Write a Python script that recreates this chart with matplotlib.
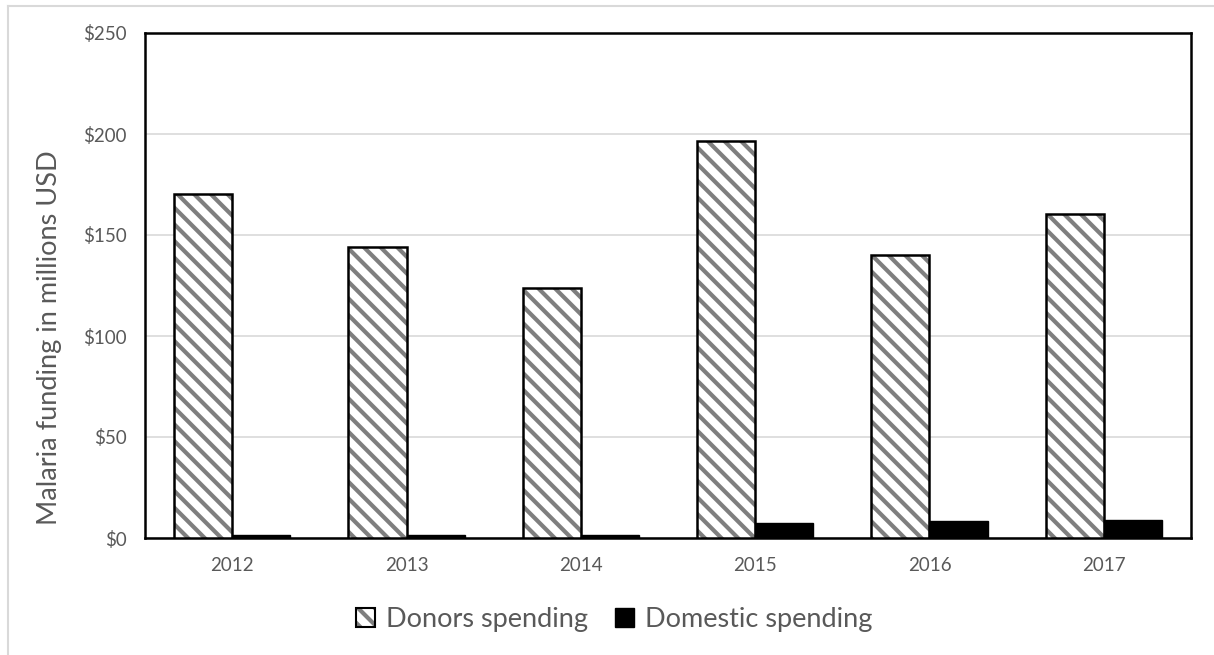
import matplotlib
matplotlib.use('Agg')
import matplotlib.pyplot as plt
from matplotlib.patches import Patch
from matplotlib.legend_handler import HandlerTuple
from matplotlib.ticker import FuncFormatter
import numpy as np

# ─── data ────────────────────────────────────────────────────────────────────
YEARS    = ["2012", "2013", "2014", "2015", "2016", "2017"]
DONORS   = [170.5, 144.0, 123.8, 196.5, 140.3, 160.6]
DOMESTIC = [1.5, 1.5, 1.5, 7.4, 8.4, 8.9]

plt.rcParams.update({
    "font.family": ["Lato", "DejaVu Sans"],
    "hatch.linewidth": 3.0,
})

TEXT_GREY = "#595959"
HATCH_GREY = "#7f7f7f"
HATCH = "\\\\"

fig = plt.figure(figsize=(12.14, 6.55), dpi=100)
ax = fig.add_axes([145/1214, 1 - 538/655, (1191-145)/1214, (538-33)/655])

x = np.arange(len(YEARS))
w = 0.333

# hatched fill (grey stripes), then black outline on top
ax.bar(x - w/2, DONORS, w, facecolor="white", edgecolor=HATCH_GREY,
       hatch=HATCH, linewidth=0, zorder=3)
ax.bar(x - w/2, DONORS, w, facecolor="none", edgecolor="black",
       linewidth=1.8, zorder=4)
ax.bar(x + w/2, DOMESTIC, w, color="black", edgecolor="black",
       linewidth=1.0, zorder=3)

ax.set_xlim(-0.5, len(YEARS) - 0.5)
ax.set_ylim(0, 250)
ax.set_yticks(np.arange(0, 251, 50))
ax.yaxis.set_major_formatter(FuncFormatter(lambda v, p: f"${v:.0f}"))
ax.set_xticks(x)
ax.set_xticklabels(YEARS)

ax.grid(axis="y", color="#d9d9d9", linewidth=1.2, zorder=0)
ax.set_axisbelow(True)
ax.tick_params(length=0, colors=TEXT_GREY, labelsize=13.5)
ax.tick_params(axis="y", pad=13)
ax.tick_params(axis="x", pad=14)
for s in ax.spines.values():
    s.set_color("black")
    s.set_linewidth(1.8)

# axis title is centred on the whole chart height, as in Excel
ax.set_ylabel("Malaria funding in millions USD", fontsize=19.5, color=TEXT_GREY)
ax.yaxis.set_label_coords((62 - 145) / 1046, (538 - 338) / 505)

# legend: hatched square with black outline + solid black square
h_don = (Patch(facecolor="white", edgecolor=HATCH_GREY, hatch=HATCH, linewidth=0),
         Patch(facecolor="none", edgecolor="black", linewidth=1.5))
h_dom = Patch(facecolor="black", edgecolor="black")
fig.legend([h_don, h_dom], ["Donors spending", "Domestic spending"],
           handler_map={tuple: HandlerTuple(ndivide=1, pad=0)},
           loc="center", bbox_to_anchor=(614/1214, 1 - 619/655),
           ncol=2, frameon=False, fontsize=19.5, labelcolor=TEXT_GREY,
           handlelength=0.7, handleheight=0.7, handletextpad=0.4,
           columnspacing=1.0)

# light chart-area border (top and left only visible in the crop)
fig.add_artist(plt.Line2D([8/1214, 1], [1 - 6/655, 1 - 6/655],
                          transform=fig.transFigure, color="#d9d9d9", linewidth=1.5))
fig.add_artist(plt.Line2D([8/1214, 8/1214], [0, 1 - 6/655],
                          transform=fig.transFigure, color="#d9d9d9", linewidth=1.5))

fig.savefig("out.png", dpi=100)
